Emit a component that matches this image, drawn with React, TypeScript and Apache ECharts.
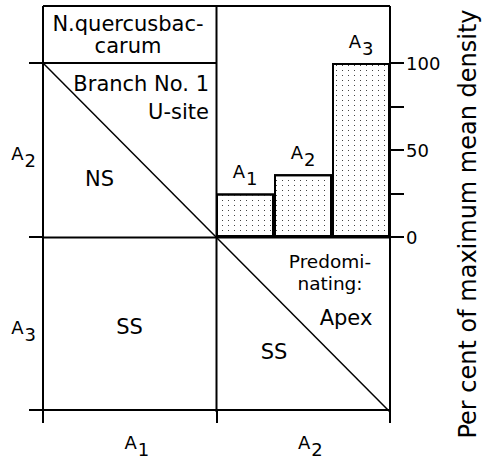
import React, { useEffect, useRef } from 'react';
import * as echarts from 'echarts';

// Bar panel (upper right): relative density of each apex/branch class
const barCategories = ['A1', 'A2', 'A3'];
const barValues = [25, 36, 100];
const densityTickLabels = [0, 50, 100];
// Diagram axes
const columnCategories = ['A1', 'A2'];
const rowCategories = ['A3', 'A2']; // bottom to top

const FONT = 'DejaVu Sans';
const BLACK = '#000';

const subLabel = (name: string) => `{a|${name[0]}}{s|${name.slice(1)}}`;
const subRich = (size: number, drop: number) => ({
  a: { fontSize: size, fontFamily: FONT, color: BLACK },
  s: { fontSize: size, fontFamily: FONT, color: BLACK, padding: [drop, 0, 0, 1] },
});

const txt = (text: string, x: number, y: number, align: string, size = 21, extra: any = {}, lineHeight?: number) => ({
  type: 'text',
  x,
  y,
  silent: true,
  ...extra,
  style: {
    text,
    fill: BLACK,
    fontSize: size,
    fontFamily: FONT,
    align,
    textAlign: align,
    verticalAlign: 'middle',
    textVerticalAlign: 'middle',
    ...(lineHeight ? { lineHeight } : {}),
  },
});

const ln = (x1: number, y1: number, x2: number, y2: number, w = 2) => ({
  type: 'line',
  silent: true,
  shape: { x1, y1, x2, y2 },
  style: { stroke: BLACK, lineWidth: w },
});

export default function App() {
  const ref = useRef<HTMLDivElement>(null);
  useEffect(() => {
    if (!ref.current) return;
    const chart = echarts.init(ref.current, undefined, { renderer: 'svg' });
    const axisLine = { show: true, lineStyle: { color: BLACK, width: 2 } };
    const option: any = {
      animation: false,
      backgroundColor: '#fff',
      grid: [
        { left: 216, top: 63, width: 174, height: 174 },
        { left: 43, top: 63, width: 347, height: 349 },
      ],
      xAxis: [
        { gridIndex: 0, type: 'category', data: barCategories, show: false },
        {
          gridIndex: 1,
          type: 'category',
          data: columnCategories,
          position: 'bottom',
          axisLine,
          axisTick: { show: true, length: 13, lineStyle: { color: BLACK, width: 2 } },
          axisLabel: {
            formatter: subLabel,
            rich: subRich(18, 14),
            margin: 16,
            padding: [0, 0, 0, 14],
          },
          splitLine: { show: false },
        },
      ],
      yAxis: [
        {
          gridIndex: 0,
          type: 'value',
          position: 'right',
          min: 0,
          max: 100,
          interval: 25,
          axisLine,
          axisTick: { show: true, length: 14, lineStyle: { color: BLACK, width: 2 } },
          axisLabel: {
            formatter: (v: number) => (densityTickLabels.includes(v) ? String(v) : ''),
            margin: 16,
            color: BLACK,
            fontSize: 18,
            fontFamily: FONT,
          },
          splitLine: { show: false },
        },
        {
          gridIndex: 1,
          type: 'category',
          data: rowCategories,
          position: 'left',
          axisLine,
          axisTick: { show: true, length: 14, lineStyle: { color: BLACK, width: 2 } },
          axisLabel: {
            formatter: subLabel,
            rich: subRich(18, 14),
            margin: 7,
            padding: [8, 0, 0, 0],
          },
          splitLine: { show: false },
        },
      ],
      series: [
        {
          type: 'bar',
          xAxisIndex: 0,
          yAxisIndex: 0,
          data: barValues,
          barWidth: '100%',
          barCategoryGap: '0%',
          itemStyle: {
            color: '#fff',
            borderColor: BLACK,
            borderWidth: 2,
            decal: {
              symbol: 'rect',
              symbolSize: 1,
              dashArrayX: [1, 5],
              dashArrayY: [1, 4],
              color: '#444',
              rotation: 0,
            },
          },
          label: {
            show: true,
            position: 'top',
            distance: 6,
            formatter: (p: any) => subLabel(p.name),
            rich: subRich(18, 14),
          },
        },
      ],
      graphic: [
        ln(43, 6, 390, 6),
        ln(43, 6, 43, 63),
        ln(216.5, 6, 216.5, 412),
        ln(390, 6, 390, 63),
        ln(390, 237, 390, 412),
        ln(43, 63, 216.5, 63),
        ln(43, 237.5, 390, 237.5),
        ln(43, 63, 216.5, 237.5, 1.5),
        ln(216.5, 237.5, 390, 412, 1.5),
        txt('N.quercusbac-\ncarum', 128, 35, 'center', 21, {}, 22),
        txt('Branch No. 1\nU-site', 209, 98, 'right', 21, {}, 28),
        txt('NS', 99.5, 179, 'center'),
        txt('SS', 129.5, 327, 'center'),
        txt('Predomi-\nnating:', 330, 272, 'center', 18.5, {}, 22),
        txt('Apex', 346, 318, 'center'),
        txt('SS', 274, 352, 'center'),
        txt('Per cent of maximum mean density', 468, 224, 'center', 24, { rotation: Math.PI / 2 }),
      ],
    };
    chart.setOption(option);
    return () => chart.dispose();
  }, []);
  return (
    <div
      ref={ref}
      style={{ position: 'absolute', left: 0, top: 0, width: 483, height: 458 }}
    />
  );
}
